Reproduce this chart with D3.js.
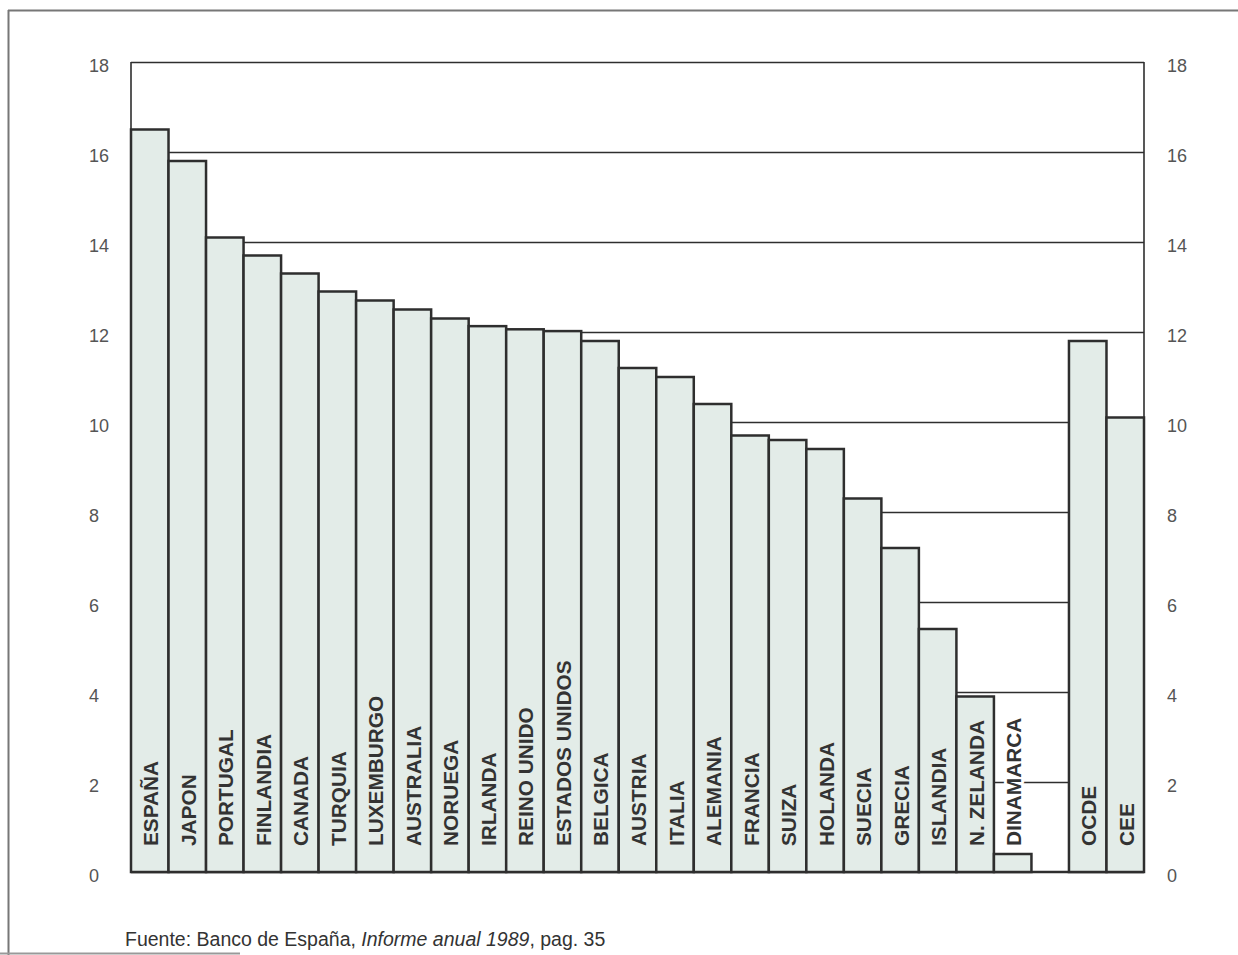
<!DOCTYPE html>
<html>
<head>
<meta charset="utf-8">
<script src="https://cdn.jsdelivr.net/npm/d3@7"></script>
<style>
  html, body { margin: 0; padding: 0; background: #fff; }
  svg { display: block; }
</style>
</head>
<body>
<svg id="chart" width="1238" height="955"></svg>
<script>
// ---- data ----
const countries = ["ESPAÑA","JAPON","PORTUGAL","FINLANDIA","CANADA","TURQUIA","LUXEMBURGO","AUSTRALIA","NORUEGA","IRLANDA","REINO UNIDO","ESTADOS UNIDOS","BELGICA","AUSTRIA","ITALIA","ALEMANIA","FRANCIA","SUIZA","HOLANDA","SUECIA","GRECIA","ISLANDIA","N. ZELANDA","DINAMARCA"];
const countryValues = [16.5,15.8,14.1,13.7,13.3,12.9,12.7,12.5,12.3,12.13,12.06,12.02,11.8,11.2,11.0,10.4,9.7,9.6,9.4,8.3,7.2,5.4,3.9,0.4];
const aggregates = ["OCDE","CEE"];
const aggregateValues = [11.8,10.1];
const yTicks = [0,2,4,6,8,10,12,14,16,18];
const sourceNormal1 = "Fuente: Banco de España, ";
const sourceItalic = "Informe anual 1989";
const sourceNormal2 = ", pag. 35";

(function () {
const rows = countries.map((c,i)=>({c, v: countryValues[i]}))
  .concat(aggregates.map((c,i)=>({c, v: aggregateValues[i]})));
const GAP = "__gap__";
const domain = countries.concat([GAP], aggregates);

// ---- layout ----
const svg = d3.select("#chart");
const pLeft = 131, pRight = 1144, pTop = 62, pBottom = 872;
const x = d3.scaleBand().domain(domain).range([pLeft, pRight]).padding(0);
const y = d3.scaleLinear().domain([0, 18]).range([pBottom, pTop]);

const ink = "#2e2e2e";
const fill = "#e3ece8";

// outer frame
svg.append("line").attr("x1", 8).attr("x2", 1238).attr("y1", 10.5).attr("y2", 10.5)
  .attr("stroke", "#777").attr("stroke-width", 2);
svg.append("line").attr("x1", 8.5).attr("x2", 8.5).attr("y1", 10).attr("y2", 955)
  .attr("stroke", "#777").attr("stroke-width", 2);
svg.append("line").attr("x1", 0).attr("x2", 240).attr("y1", 953.5).attr("y2", 953.5)
  .attr("stroke", "#999").attr("stroke-width", 2);

// gridlines
const grid = svg.append("g").attr("transform", `translate(${pLeft},0)`)
  .call(d3.axisRight(y).tickValues(yTicks.filter(t => t > 0)).tickSize(pRight - pLeft).tickFormat(""));
grid.select(".domain").remove();
grid.selectAll(".tick line").attr("stroke", ink).attr("stroke-width", 1.6);

// side axis lines and baseline
svg.append("line").attr("x1", pLeft).attr("x2", pLeft).attr("y1", y(18)).attr("y2", y(0))
  .attr("stroke", ink).attr("stroke-width", 1.6);
svg.append("line").attr("x1", pRight).attr("x2", pRight).attr("y1", y(18)).attr("y2", y(0))
  .attr("stroke", ink).attr("stroke-width", 1.6);
svg.append("line").attr("x1", pLeft).attr("x2", pRight).attr("y1", y(0)).attr("y2", y(0))
  .attr("stroke", ink).attr("stroke-width", 2.5);

// tick labels
const fontTick = "'Liberation Sans', Arial, sans-serif";
const axL = svg.append("g").attr("transform", `translate(${pLeft},0)`)
  .call(d3.axisLeft(y).tickValues(yTicks).tickSize(0).tickFormat(d3.format("d")));
axL.select(".domain").remove();
axL.selectAll("text").attr("x", -42).attr("dy", "0.5em").attr("text-anchor", "start")
  .attr("font-family", fontTick).attr("font-size", 18).attr("fill", "#555");
const axR = svg.append("g").attr("transform", `translate(${pRight},0)`)
  .call(d3.axisRight(y).tickValues(yTicks).tickSize(0).tickFormat(d3.format("d")));
axR.select(".domain").remove();
axR.selectAll("text").attr("x", 23).attr("dy", "0.5em").attr("text-anchor", "start")
  .attr("font-family", fontTick).attr("font-size", 18).attr("fill", "#555");

// bars
svg.append("g").selectAll("rect").data(rows).join("rect")
  .attr("x", d => x(d.c))
  .attr("y", d => y(d.v))
  .attr("width", x.bandwidth())
  .attr("height", d => y(0) - y(d.v))
  .attr("fill", fill)
  .attr("stroke", ink)
  .attr("stroke-width", 2.5);

// category labels
const labelBase = 846;
const lab = svg.append("g").selectAll("text").data(rows).join("text")
  .attr("transform", d => `translate(${x(d.c) + x.bandwidth()/2 + 1},${labelBase}) rotate(-90)`)
  .attr("text-anchor", "start")
  .attr("dominant-baseline", "central")
  .attr("font-family", fontTick)
  .attr("font-weight", "bold")
  .attr("font-size", 20.8)
  .attr("fill", "#333")
  .text(d => d.c);
lab.each(function(d) {
  const len = this.getComputedTextLength();
  if (labelBase - len < y(d.v)) {
    d3.select(this).attr("stroke", "#fff").attr("stroke-width", 6)
      .attr("paint-order", "stroke").attr("stroke-linejoin", "round");
  }
});

// source
const src = svg.append("text").attr("x", 125).attr("y", 946)
  .attr("font-family", fontTick).attr("font-size", 19.5).attr("fill", "#333");
src.append("tspan").text(sourceNormal1);
src.append("tspan").attr("font-style", "italic").text(sourceItalic);
src.append("tspan").text(sourceNormal2);
})();
</script>
</body>
</html>
